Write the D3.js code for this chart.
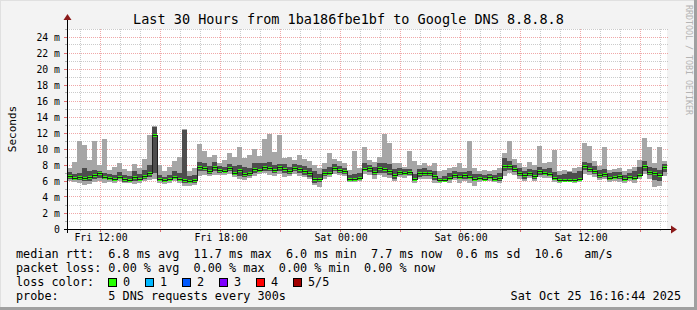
<!DOCTYPE html>
<html><head><meta charset="utf-8">
<script src="https://cdn.jsdelivr.net/npm/d3@7"></script>
<style>
html,body{margin:0;padding:0;background:#f3f3f3;}
svg{display:block;}
text{font-family:"DejaVu Sans Mono",monospace;fill:#000;}
</style></head><body>
<svg id="c" width="697" height="310"></svg>
<script>
const title = "Last 30 Hours from 1ba186fbe1bf to Google DNS 8.8.8.8";
// median rtt (ms), one value per 15 minutes, 30 hours
const median = [6.6,6.4,6.5,6.4,6.5,6.7,7.0,6.5,6.4,6.3, 6.5,6.2,6.1,6.5,6.3,6.6,7.0,11.7,6.2,6.1,
 6.2,6.5,6.2,6.1,6.0,6.1,7.8,7.6,7.2,7.8, 7.4,7.3,7.6,7.0,7.4,6.9,7.0,7.5,7.4,7.8,
 7.6,7.4,7.8,7.5,7.2,7.6,7.5,7.2,7.0,6.2, 6.3,7.0,7.0,7.6,7.4,7.2,6.2,6.2,6.4,7.5,
 7.6,7.1,7.6,7.5,7.2,6.7,7.1,7.0,7.1,6.3, 7.0,7.0,7.0,6.6,6.1,6.1,6.4,6.8,6.5,6.7,
 6.5,6.2,6.4,6.3,6.5,6.2,6.4,7.9,7.9,7.5, 7.0,6.7,7.0,6.6,7.2,7.0,6.9,6.4,6.1,6.1,
 6.1,6.1,6.3,7.9,7.5,7.2,6.7,6.9,6.4,6.5, 6.6,6.2,6.5,6.4,6.8,7.9,7.1,7.0,6.8,7.7];
// sorted pings: ping1 = min, ping2, ping4, ping5 = max
const ping1 = [6.0,5.9,5.8,5.5,5.6,5.9,6.0,5.8,5.9,5.8, 6.0,5.7,5.7,5.6,5.8,6.0,6.1,6.2,5.8,5.6,
 5.7,6.0,5.8,5.4,5.4,5.5,6.6,6.8,6.6,6.8, 6.7,6.8,6.9,6.5,6.3,6.1,6.4,6.6,6.9,7.0,
 6.8,6.6,6.9,6.5,6.6,6.9,6.6,6.5,6.2,5.5, 5.2,6.3,6.5,6.9,6.7,6.6,5.9,5.9,6.0,6.9,
 6.7,6.3,6.7,6.5,6.4,6.0,6.5,6.4,6.6,5.8, 6.2,6.3,6.3,5.8,5.8,5.9,5.8,6.1,5.8,6.0,
 5.8,5.4,5.9,6.0,6.0,5.9,5.8,6.6,7.0,6.8, 6.2,6.0,6.4,6.0,6.5,6.4,6.4,5.9,5.8,5.9,
 5.9,5.8,5.9,6.9,6.7,6.5,6.1,6.2,5.9,6.0, 5.9,5.8,6.0,5.8,6.2,6.9,6.2,5.3,5.4,6.6];
const ping2 = [6.2,6.1,6.1,6.0,6.0,6.2,6.4,6.2,6.1,6.0, 6.2,5.9,5.9,6.0,6.0,6.2,6.5,7.0,6.0,5.9,
 6.0,6.2,6.0,5.8,5.7,5.8,7.2,7.2,6.9,7.2, 7.0,7.1,7.2,6.8,6.6,6.5,6.6,7.0,7.1,7.3,
 7.2,7.0,7.2,7.0,6.9,7.2,7.0,6.8,6.5,5.8, 5.9,6.6,6.8,7.2,7.0,6.9,6.0,6.0,6.2,7.2,
 7.1,6.8,7.0,7.0,6.8,6.3,6.8,6.7,6.8,6.0, 6.5,6.6,6.6,6.1,6.0,6.0,6.1,6.4,6.2,6.3,
 6.2,6.0,6.1,6.1,6.2,6.0,6.0,7.2,7.4,7.1, 6.6,6.3,6.6,6.3,6.8,6.7,6.6,6.1,6.0,6.0,
 6.0,6.0,6.1,7.4,7.1,6.9,6.4,6.5,6.1,6.2, 6.2,6.0,6.2,6.1,6.5,7.3,6.7,6.1,6.0,7.1];
const ping4 = [7.1,6.9,7.0,7.6,7.2,7.4,7.3,7.0,6.9,6.8, 7.1,6.8,6.6,7.3,6.9,7.4,8.0,12.8,6.8,6.5,
 6.8,7.2,7.0,12.4,6.6,6.7,8.4,8.2,7.9,8.4, 7.9,7.8,8.1,7.9,8.0,7.8,7.6,8.2,8.2,8.3,
 8.4,8.0,8.1,8.1,7.8,8.1,8.0,7.9,7.6,7.2, 6.9,7.5,7.7,8.1,7.9,7.6,6.8,6.9,7.0,8.2,
 8.0,7.7,8.2,8.3,8.1,7.5,7.6,7.5,7.5,6.9, 7.5,7.6,7.4,7.3,6.4,6.6,7.0,7.2,7.1,7.1,
 7.2,6.9,6.9,6.8,6.9,6.8,7.0,8.9,8.5,8.0, 7.6,7.3,7.5,7.4,7.8,7.5,7.6,7.1,6.8,6.9,
 7.1,7.0,7.2,8.4,8.2,7.9,7.4,7.5,7.0,7.1, 7.1,6.8,7.0,7.3,7.8,8.5,7.8,7.6,7.4,8.1];
const ping5 = [7.6,8.4,11.0,10.5,8.6,11.0,8.0,11.3,7.4,7.8, 8.2,7.5,7.2,8.1,7.6,8.7,11.7,12.9,8.0,7.2,
 7.8,8.5,9.0,12.5,7.2,7.6,10.6,9.8,9.0,9.2, 8.3,8.6,9.5,9.0,10.2,8.9,9.2,10.0,9.1,11.3,
 11.9,9.6,11.7,8.9,9.0,8.6,9.3,8.8,8.5,8.0, 7.6,8.2,9.5,8.7,8.5,8.3,7.4,9.7,7.6,10.2,
 8.6,8.4,9.0,11.9,10.8,8.2,8.2,7.8,9.7,8.5, 8.0,8.2,7.9,8.3,7.2,7.4,7.6,7.7,8.2,7.6,
 11.0,7.6,7.2,7.4,7.3,7.4,7.6,9.5,11.0,8.8, 8.3,7.8,8.4,8.0,10.4,8.2,8.4,9.9,7.2,7.4,
 7.2,7.6,7.8,10.7,10.4,8.5,7.9,10.2,7.4,7.5, 7.6,7.2,7.5,7.8,8.6,11.4,10.2,8.2,10.2,8.5];
const yTicks = [0,2,4,6,8,10,12,14,16,18,20,22,24];
const xTickLabels = ["Fri 12:00","Fri 18:00","Sat 00:00","Sat 06:00","Sat 12:00"];
const xTickTimes = ["2025-10-24T12:00","2025-10-24T18:00","2025-10-25T00:00","2025-10-25T06:00","2025-10-25T12:00"];
const lossLabels = ["0","1","2","3","4","5/5"];
const lossColors = ["#26ff00","#00b8ff","#0059ff","#7e00ff","#ff0000","#a10000"];
const rttLine = "median rtt:  6.8 ms avg  11.7 ms max  6.0 ms min  7.7 ms now  0.6 ms sd  10.6   am/s";
const lossLine = "packet loss: 0.00 % avg  0.00 % max  0.00 % min  0.00 % now";
const probeLine = "probe:       5 DNS requests every 300s";
const stamp = "Sat Oct 25 16:16:44 2025";

const W = 697, H = 310;
const svg = d3.select("#c");
const start = new Date("2025-10-24T10:19:30");
const end = new Date("2025-10-25T16:19:30");
const stepMs = 15*60*1000;
const L = 67, R = 667, T = 29, B = 229;
const x = d3.scaleTime().domain([start, end]).range([L, R]);
const y = d3.scaleLinear().domain([0, 25]).range([B, T]);
const data = median.map((m,i)=>({t0:new Date(+start+i*stepMs), t1:new Date(+start+(i+1)*stepMs), m, p1:ping1[i], p2:ping2[i], p4:ping4[i], p5:ping5[i]}));

// background & frame
svg.append("rect").attr("width",W).attr("height",H).attr("fill","#f3f3f3");
svg.append("rect").attr("x",0).attr("y",0).attr("width",W).attr("height",1).attr("fill","#e0e0e0");
svg.append("rect").attr("x",0).attr("y",0).attr("width",1).attr("height",H).attr("fill","#e0e0e0");
svg.append("rect").attr("x",W-3).attr("y",0).attr("width",3).attr("height",H).attr("fill","#a0a0a0");
svg.append("rect").attr("x",0).attr("y",H-3).attr("width",W).attr("height",3).attr("fill","#a0a0a0");
svg.append("rect").attr("x",L).attr("y",T).attr("width",R-L).attr("height",B-T).attr("fill","#ffffff");

// grid
const g = svg.append("g").attr("shape-rendering","crispEdges");
const hours = d3.timeHour.range(d3.timeHour.ceil(start), end);
hours.forEach(h=>{
  const major = h.getHours()%3===0;
  const xx = Math.floor(x(h))+0.5;
  g.append("line").attr("x1",xx).attr("x2",xx).attr("y1",T).attr("y2",B)
   .attr("stroke", major? "rgba(230,110,110,0.6)":"rgba(160,160,160,0.55)")
   .attr("stroke-dasharray","1,1");
  g.append("line").attr("x1",xx).attr("x2",xx).attr("y1",B).attr("y2",B+(major?3:2))
   .attr("stroke", major? "#e07070":"#b0b0b0");
});
d3.range(1,26).forEach(v=>{
  const major = v%2===0;
  const yy = Math.floor(y(v))+0.5;
  g.append("line").attr("x1",L).attr("x2",R+2).attr("y1",yy).attr("y2",yy)
   .attr("stroke", major? "rgba(230,110,110,0.6)":"rgba(160,160,160,0.55)")
   .attr("stroke-dasharray","1,1");
  g.append("line").attr("x1",L-(major?3:2)).attr("x2",L).attr("y1",yy).attr("y2",yy)
   .attr("stroke", major? "#e07070":"#b0b0b0");
});

// smoke
const sm = svg.append("g").attr("shape-rendering","crispEdges");
sm.selectAll("rect.o").data(data).join("rect").attr("class","o")
  .attr("x",d=>x(d.t0)).attr("width",d=>x(d.t1)-x(d.t0))
  .attr("y",d=>Math.round(y(d.p5))).attr("height",d=>Math.round(y(d.p1))-Math.round(y(d.p5)))
  .attr("fill","#a6a6a6");
sm.selectAll("rect.i").data(data).join("rect").attr("class","i")
  .attr("x",d=>x(d.t0)).attr("width",d=>x(d.t1)-x(d.t0))
  .attr("y",d=>Math.round(y(d.p4))).attr("height",d=>Math.round(y(d.p2))-Math.round(y(d.p4)))
  .attr("fill","#4d4d4d");

// median line
const stepData = data.map(d=>[d.t0,d.m]).concat([[end, median[median.length-1]]]);
svg.append("path").datum(stepData)
  .attr("d", d3.line().x(d=>x(d[0])).y(d=>Math.round(y(d[1]))+0.5).curve(d3.curveStepAfter))
  .attr("fill","none").attr("stroke","#202020").attr("stroke-width",1).attr("shape-rendering","crispEdges");
sm.selectAll("rect.m").data(data).join("rect").attr("class","m")
  .attr("x",d=>x(d.t0)+1).attr("width",d=>x(d.t1)-x(d.t0)-1)
  .attr("y",d=>Math.round(y(d.m))-1).attr("height",2.5)
  .attr("fill",lossColors[0]);

// axes lines & arrows
const ax = svg.append("g").attr("shape-rendering","crispEdges");
ax.append("line").attr("x1",L-3).attr("x2",R+5).attr("y1",B+0.5).attr("y2",B+0.5).attr("stroke","#000");
ax.append("line").attr("x1",L+0.5).attr("x2",L+0.5).attr("y1",B+4).attr("y2",T-10).attr("stroke","#000");
svg.append("path").attr("d",`M${R+4},${B-3.5}L${R+10},${B+0.5}L${R+4},${B+4.5}Z`).attr("fill","#8b1a1a");
svg.append("path").attr("d",`M${L-3.5},${T-9}L${L+0.5},${T-15}L${L+4.5},${T-9}Z`).attr("fill","#8b1a1a");

// axis labels via d3 axes
const xa = svg.append("g").attr("transform",`translate(0,${B})`)
  .call(d3.axisBottom(x).tickValues(xTickTimes.map(s=>new Date(s))).tickFormat((d,i)=>xTickLabels[i]).tickSize(0).tickPadding(5));
xa.select(".domain").remove();
xa.selectAll("text").attr("font-family","DejaVu Sans Mono").attr("font-size","9.8px").attr("fill","#000");
const ya = svg.append("g").attr("transform",`translate(${L},0)`)
  .call(d3.axisLeft(y).tickValues(yTicks).tickFormat(v=>v===0?"0":v+" m").tickSize(0).tickPadding(7));
ya.select(".domain").remove();
ya.selectAll("text").attr("font-family","DejaVu Sans Mono").attr("font-size","9.8px").attr("fill","#000");

// title & labels
svg.append("text").attr("x",348.5).attr("y",24).attr("text-anchor","middle").attr("font-size","13.5px").text(title);
svg.append("text").attr("transform","translate(16,129) rotate(-90)").attr("text-anchor","middle").attr("font-size","11px").text("Seconds");
svg.append("text").attr("transform","translate(686,5) rotate(90)").attr("font-size","8.3px").style("fill","#b4b4b4").text("RRDTOOL / TOBI OETIKER");

// legend
const lg = svg.append("g").attr("font-size","11.8px");
const lineY = [258.3, 272.3, 286.3, 300.2];
lg.append("text").attr("x",16).attr("y",lineY[0]).attr("xml:space","preserve").style("white-space","pre").text(rttLine);
lg.append("text").attr("x",16).attr("y",lineY[1]).attr("xml:space","preserve").style("white-space","pre").text(lossLine);
lg.append("text").attr("x",16).attr("y",lineY[2]).text("loss color:");
const boxX = [108,145,182,219,256,293];
lossLabels.forEach((s,i)=>{
  lg.append("rect").attr("x",boxX[i]+0.5).attr("y",278.5).attr("width",8).attr("height",8)
    .attr("fill",lossColors[i]).attr("stroke","#000").attr("stroke-width",1).attr("shape-rendering","crispEdges");
  lg.append("text").attr("x",boxX[i]+15).attr("y",lineY[2]).text(s);
});
lg.append("text").attr("x",16).attr("y",lineY[3]).attr("xml:space","preserve").style("white-space","pre").text(probeLine);
lg.append("text").attr("x",681).attr("y",lineY[3]).attr("text-anchor","end").text(stamp);
</script>
</body></html>
